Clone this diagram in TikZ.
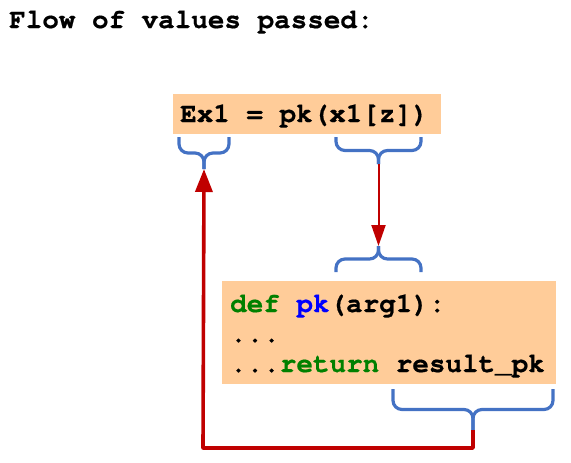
\documentclass[tikz,border=0pt]{standalone}
\usepackage{fontspec}
\setmonofont[BoldFeatures={FakeBold=0.6}]{TeX Gyre Cursor}
\usetikzlibrary{arrows.meta}
\definecolor{peach}{RGB}{255,204,153}
\definecolor{braceblue}{RGB}{68,114,196}
\definecolor{darkred}{RGB}{192,0,0}
\definecolor{kwgreen}{RGB}{0,128,0}
\definecolor{fnblue}{RGB}{0,0,255}
\tikzset{
  codefont/.style={font=\ttfamily\bfseries\fontsize{27.6}{30}\selectfont, inner sep=0pt, anchor=base west},
  box/.style={fill=peach, draw=none, inner sep=0pt, anchor=north west},
  bracestyle/.style={draw=braceblue, line width=3.2pt, rounded corners=9pt, line cap=butt},
  thinarrow/.style={draw=darkred, line width=2pt, -{Triangle[width=14pt,length=21pt]}},
  thickarrow/.style={draw=darkred, line width=3.6pt, line join=round, -{Triangle[width=17pt,length=23pt]}}
}
\newcommand{\mybrace}[5]{% x1, x2, ytop, ytip, name of tip
  \coordinate (#5) at ({(#1+#2)/2},#4);
  \draw[bracestyle] (#1,#3) -- (#1,{(#3+#4)/2}) -- ({(#1+#2)/2},{(#3+#4)/2}) -- (#5);
  \draw[bracestyle] (#2,#3) -- (#2,{(#3+#4)/2}) -- ({(#1+#2)/2},{(#3+#4)/2}) -- (#5);
}
\begin{document}
\begin{tikzpicture}[x=1pt,y=-1pt]
\useasboundingbox (0,0) rectangle (571,463);
\node[codefont] (title) at (9,28) {Flow of values passed:};
% top box
\node[box, minimum width=268pt, minimum height=40pt] (topbox) at (173,94) {};
\node[codefont] (excall) at (180,122) {Ex1 = pk(x1[z])};
% bottom box
\node[box, minimum width=334pt, minimum height=103pt] (botbox) at (222,281) {};
\node[codefont] (l1) at (230,312) {\textcolor{kwgreen}{def} \textcolor{fnblue}{pk}(arg1):};
\node[codefont] (l2) at (230,342) {...};
\node[codefont] (l3) at (230,372) {...\textcolor{kwgreen}{return} result\_pk};
% braces
\mybrace{179}{229}{137}{169}{bEx}
\mybrace{336}{421}{137}{164}{bArg}
\mybrace{336}{421}{272}{246}{bPar}
\mybrace{393}{553}{389}{430}{bRes}
% arrows
\draw[thinarrow] (bArg) -- (bPar);
\coordinate (c1) at (473,448);
\coordinate (c2) at (203,448);
\draw[thickarrow] (bRes) -- (c1) -- (c2) -- (bEx);
\end{tikzpicture}
\end{document}
